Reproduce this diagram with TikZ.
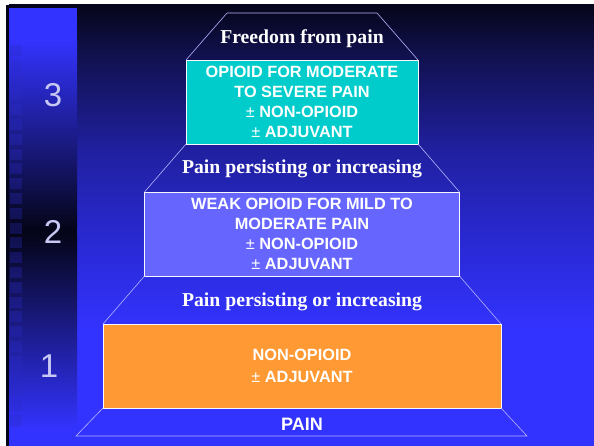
\documentclass[tikz,border=0pt]{standalone}
\usepackage{fontspec}
\setmainfont{Liberation Sans}
\newfontfamily\timesfont{Liberation Serif}
\usetikzlibrary{positioning}

\definecolor{slideblue}{HTML}{3333FF}
\definecolor{slidenight}{HTML}{05051A}
\definecolor{shadeA}{HTML}{10104A}
\definecolor{shadeB}{HTML}{2020A0}
\definecolor{shadeC}{HTML}{2A2AD8}
\definecolor{tilecol}{HTML}{2C2CC8}
\definecolor{stepcyan}{HTML}{00CCCC}
\definecolor{steplav}{HTML}{6666FF}
\definecolor{steporange}{HTML}{FF9933}
\definecolor{rimcol}{HTML}{B4B4FF}
\definecolor{numcol}{HTML}{C8C8F4}

\begin{document}
\begin{tikzpicture}[
  x=1pt, y=-1pt,
  drugbox/.style={rectangle, draw=white!90!rimcol, line width=0.8pt, inner sep=0pt, outer sep=0pt, minimum height=84pt, text=white, font=\fontsize{16.3}{20}\selectfont\bfseries, align=center},
  bandtext/.style={text=white, font=\timesfont\fontsize{19.7}{22}\selectfont\bfseries},
  rim/.style={draw=rimcol, line width=0.6pt},
  rungnum/.style={text=numcol, font=\fontsize{33}{36}\selectfont},
]

  % slide background
  \useasboundingbox (0,0) rectangle (594,446);
  \fill[white] (0,0) rectangle (594,446);
  \fill[slidenight] (6,5) rectangle (594,446);
  \shade[top color=slidenight, bottom color=shadeA] (9,5) rectangle (594,50.5);
  \shade[top color=shadeA, bottom color=shadeB] (9,50) rectangle (594,150.5);
  \shade[top color=shadeB, bottom color=shadeC] (9,150) rectangle (594,250.5);
  \shade[top color=shadeC, bottom color=slideblue] (9,250) rectangle (594,330.5);
  \fill[slideblue] (9,330) rectangle (594,446);

  % left band with the step numbers
  \fill[slideblue] (9,8) rectangle (77,40);
  \shade[top color=slideblue, bottom color=slidenight] (9,39.5) rectangle (77,228);
  \fill[slidenight] (9,227.5) rectangle (77,236);
  \shade[top color=slidenight, bottom color=slideblue] (9,235.5) rectangle (77,430);
  \fill[slideblue] (9,429.5) rectangle (77,446);
  \foreach \k in {0,...,25}
    \fill[tilecol, opacity=0.3] (10,{45+14.8*\k}) rectangle ++(12,11);

  \node[rungnum] (rung3) at (53,95) {3};
  \node[rungnum] (rung2) at (53,232) {2};
  \node[rungnum] (rung1) at (49,366) {1};

  % the ladder
  \node[drugbox, fill=stepcyan, minimum width=232pt] (cyan) at (302,102) {OPIOID FOR MODERATE\\
    TO SEVERE PAIN\\
    {\mdseries ±} NON-OPIOID\\
    {\mdseries ±} ADJUVANT
  };
  \node[drugbox, fill=steplav, minimum width=315pt, below=48pt of cyan] (lav) {WEAK OPIOID FOR MILD TO\\
    MODERATE PAIN\\
    {\mdseries ±} NON-OPIOID\\
    {\mdseries ±} ADJUVANT
  };
  \node[drugbox, fill=steporange, minimum width=398pt, below=48pt of lav] (orange) {NON-OPIOID\\[2pt]
    {\mdseries ±} ADJUVANT
  };

  \coordinate (apexL) at (227,13);
  \coordinate (apexR) at (377,13);
  \coordinate (baseL) at (76,436);
  \coordinate (baseR) at (527,436);

  \draw[rim] (cyan.north west) -- (apexL) -- (apexR) -- (cyan.north east);
  \draw[rim] (cyan.south west) -- (lav.north west);
  \draw[rim] (cyan.south east) -- (lav.north east);
  \draw[rim] (lav.south west) -- (orange.north west);
  \draw[rim] (lav.south east) -- (orange.north east);
  \draw[rim] (orange.south west) -- (baseL) -- (baseR) -- (orange.south east);

  \node[bandtext] (relief) at (302,38.5) {Freedom from pain};
  \node[bandtext] (persist2) at (302,169) {Pain persisting or increasing};
  \node[bandtext] (persist1) at (302,301.5) {Pain persisting or increasing};
  \node[text=white, font=\fontsize{18}{20}\selectfont\bfseries] (pain) at (302,424.5) {PAIN};
\end{tikzpicture}
\end{document}
